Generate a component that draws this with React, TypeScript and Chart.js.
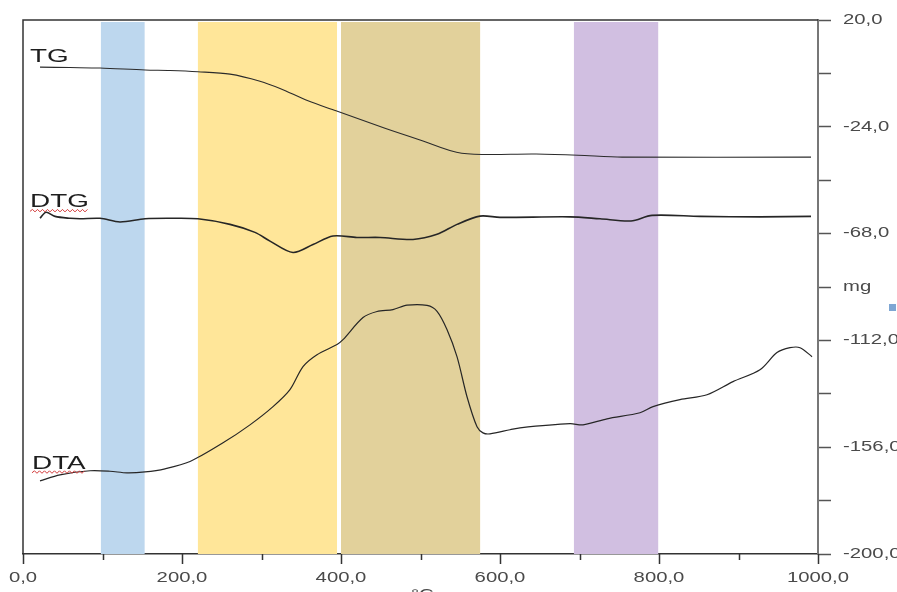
import { useEffect, useRef } from "react";
import { Chart, registerables } from "chart.js";

Chart.register(...registerables);

// ---- data (x in °C, y on the mg axis) ----
const TG_X = [21.4, 59.1, 96.9, 153.5, 184.9, 220.1, 260.4, 298.1, 323.3, 358.5, 393.7, 455.3, 499.4, 551.8, 645.3, 698.1, 753.5, 991.2];
const TG_Y = [0.6, 0.4, 0.2, -0.6, -0.8, -1.3, -2.3, -5.2, -8.2, -13.3, -17.4, -24.6, -29.4, -34.9, -35.2, -35.7, -36.5, -36.5];

const DTG_X = [21.4, 28.9, 40.3, 59.1, 71.7, 96.9, 122.0, 153.5, 184.9, 220.1, 260.4, 291.8, 310.7, 339.6, 364.8, 389.9, 420.1, 449.1, 490.6, 520.8, 545.9, 574.8, 600.0, 688.1, 725.8, 764.8, 791.2, 851.6, 927.0, 991.2];
const DTG_Y = [-61.7, -59.2, -60.9, -61.7, -61.9, -61.7, -63.2, -61.9, -61.7, -61.9, -64.2, -67.5, -71.1, -75.8, -72.5, -69.0, -69.6, -69.6, -70.4, -68.3, -64.2, -60.8, -61.3, -61.1, -61.9, -62.8, -60.5, -60.9, -61.1, -60.9];

const DTA_X = [21.4, 46.5, 84.3, 109.4, 130.8, 153.5, 178.6, 210.1, 251.6, 285.5, 314.5, 335.8, 352.2, 369.8, 395.0, 402.5, 427.7, 445.3, 465.4, 483.0, 508.2, 520.8, 533.3, 545.9, 558.5, 571.1, 578.6, 587.4, 612.6, 625.2, 688.1, 704.4, 734.6, 776.1, 792.5, 826.4, 860.4, 893.1, 927.0, 948.4, 964.8, 977.4, 992.5];
const DTA_Y = [-169.9, -167.4, -165.7, -165.9, -166.6, -166.2, -164.9, -161.9, -154.2, -146.8, -139.3, -132.3, -122.8, -117.9, -113.7, -111.7, -102.6, -100.1, -99.3, -97.5, -97.6, -100.0, -107.5, -118.7, -135.2, -147.6, -150.1, -150.5, -148.8, -148.0, -146.3, -146.8, -144.3, -141.8, -139.3, -136.4, -134.4, -129.0, -124.1, -117.0, -115.0, -115.0, -118.7];

// shaded temperature ranges
const BAND_START = [98, 220, 400, 693];
const BAND_END = [153, 395, 575, 799];
const BAND_COLORS = ["#bdd7ee", "#ffe699", "#e2d19b", "#d1bfe1"];

// ticks
const X_TICKS = [0, 100, 200, 300, 400, 500, 600, 700, 800, 900, 1000];
const X_LABELED = [0, 200, 400, 600, 800, 1000];
const Y_TICKS = [20, -2, -24, -46, -68, -90, -112, -134, -156, -178, -200];
const Y_LABELED = [20, -24, -68, -112, -156, -200];
const Y_UNIT_TICK = -90;
const Y_UNIT = "mg";
const X_UNIT = "°C";

// curve name labels and their anchor (data coords)
const CURVE_NAMES = ["TG", "DTG", "DTA"];
const CURVE_NAME_X = [8.8, 8.8, 11.3];
const CURVE_NAME_Y = [2.7, -57.2, -164.9];
const CURVE_NAME_UNDERLINE = [false, true, true];

const FONT = '"Liberation Sans", Arial, sans-serif';
const TEXT_STRETCH = 1.45; // the picture's text is horizontally stretched
const fmt = (v: number) => v.toFixed(1).replace(".", ",");

const pts = (xs: number[], ys: number[]) => xs.map((x, i) => ({ x, y: ys[i] }));

function stretchedText(ctx: CanvasRenderingContext2D, text: string, x: number, y: number, sx: number) {
  ctx.save();
  ctx.translate(x, y);
  ctx.scale(sx, 1);
  ctx.fillText(text, 0, 0);
  ctx.restore();
}

export default function App() {
  const ref = useRef<HTMLCanvasElement | null>(null);

  useEffect(() => {
    document.body.style.margin = "0";
    const canvas = ref.current;
    if (!canvas) return;

    const bandsPlugin = {
      id: "bands",
      beforeDatasetsDraw(chart: any) {
        const { ctx, chartArea, scales } = chart;
        ctx.save();
        for (let i = 0; i < BAND_START.length; i++) {
          const x0 = scales.x.getPixelForValue(BAND_START[i]);
          const x1 = scales.x.getPixelForValue(BAND_END[i]);
          ctx.fillStyle = BAND_COLORS[i];
          ctx.fillRect(x0, chartArea.top + 2, x1 - x0, chartArea.bottom - chartArea.top - 2);
        }
        ctx.restore();
      },
    };

    const decoPlugin = {
      id: "deco",
      afterDraw(chart: any) {
        const { ctx, chartArea, scales } = chart;
        ctx.save();
        // top and left frame lines
        ctx.strokeStyle = "#333";
        ctx.lineWidth = 1.5;
        ctx.beginPath();
        ctx.moveTo(chartArea.left, chartArea.bottom);
        ctx.lineTo(chartArea.left, chartArea.top);
        ctx.lineTo(chartArea.right, chartArea.top);
        ctx.stroke();

        // x ticks (major longer than minor)
        ctx.beginPath();
        for (const v of X_TICKS) {
          const px = Math.round(scales.x.getPixelForValue(v)) + 0.5;
          const len = X_LABELED.includes(v) ? 10 : 6;
          ctx.moveTo(px, chartArea.bottom);
          ctx.lineTo(px, chartArea.bottom + len);
        }
        ctx.stroke();

        // tick labels
        ctx.font = `14px ${FONT}`;
        ctx.fillStyle = "#4a4a4a";
        ctx.textBaseline = "middle";
        ctx.textAlign = "center";
        for (const v of X_LABELED) {
          stretchedText(ctx, fmt(v), scales.x.getPixelForValue(v), chartArea.bottom + 24, TEXT_STRETCH);
        }
        ctx.textAlign = "left";
        const yLabelX = chartArea.right + 25;
        for (const v of Y_LABELED) {
          stretchedText(ctx, fmt(v), yLabelX, scales.y.getPixelForValue(v), TEXT_STRETCH);
        }
        stretchedText(ctx, Y_UNIT, yLabelX, scales.y.getPixelForValue(Y_UNIT_TICK), TEXT_STRETCH);

        // x axis unit (partly outside the picture)
        ctx.textBaseline = "top";
        stretchedText(ctx, X_UNIT, scales.x.getPixelForValue(488), chartArea.bottom + 34, TEXT_STRETCH);

        // curve names
        ctx.font = `18px ${FONT}`;
        ctx.fillStyle = "#1e1e1e";
        ctx.textBaseline = "alphabetic";
        ctx.textAlign = "left";
        for (let i = 0; i < CURVE_NAMES.length; i++) {
          const px = scales.x.getPixelForValue(CURVE_NAME_X[i]);
          const py = scales.y.getPixelForValue(CURVE_NAME_Y[i]);
          stretchedText(ctx, CURVE_NAMES[i], px, py, 1.55);
          if (CURVE_NAME_UNDERLINE[i]) {
            const w = ctx.measureText(CURVE_NAMES[i]).width * 1.55;
            ctx.strokeStyle = "#d23a3a";
            ctx.lineWidth = 1;
            ctx.beginPath();
            let up = true;
            ctx.moveTo(px, py + 4);
            for (let x = px + 2.5; x <= px + w; x += 2.5) {
              ctx.lineTo(x, up ? py + 2 : py + 4.5);
              up = !up;
            }
            ctx.stroke();
          }
        }

        // small legend marker
        ctx.fillStyle = "#7ea6d3";
        ctx.fillRect(chart.width - 8, scales.y.getPixelForValue(-97), 7, 7);
        ctx.restore();
      },
    };

    const chart = new Chart(canvas, {
      type: "line",
      data: {
        datasets: [
          { label: "TG", data: pts(TG_X, TG_Y), borderColor: "#2b2b2b", borderWidth: 1.1, tension: 0.3 },
          { label: "DTG", data: pts(DTG_X, DTG_Y), borderColor: "#262626", borderWidth: 1.6, tension: 0.3 },
          { label: "DTA", data: pts(DTA_X, DTA_Y), borderColor: "#262626", borderWidth: 1.2, tension: 0.3 },
        ],
      },
      options: {
        animation: false,
        responsive: true,
        maintainAspectRatio: false,
        layout: { padding: { top: 20, left: 23, right: 0, bottom: 0 } },
        elements: { point: { radius: 0, hoverRadius: 0 } },
        plugins: { legend: { display: false }, tooltip: { enabled: false } },
        events: [],
        scales: {
          x: {
            type: "linear",
            position: "bottom",
            min: 0,
            max: 1000,
            afterBuildTicks: (scale: any) => {
              scale.ticks = X_TICKS.map((v) => ({ value: v }));
            },
            afterFit: (scale: any) => {
              scale.height = 38;
            },
            ticks: { autoSkip: false, maxRotation: 0, callback: () => "" },
            grid: { drawOnChartArea: false, drawTicks: false },
            border: { display: true, color: "#333", width: 1.5 },
          },
          y: {
            type: "linear",
            position: "right",
            min: -200,
            max: 20,
            afterBuildTicks: (scale: any) => {
              scale.ticks = Y_TICKS.map((v) => ({ value: v }));
            },
            afterFit: (scale: any) => {
              scale.width = 79;
            },
            ticks: { autoSkip: false, callback: () => "" },
            grid: { drawOnChartArea: false, drawTicks: true, tickLength: 13, color: "#555", tickWidth: 1.5 },
            border: { display: true, color: "#777", width: 2 },
          },
        },
      },
      plugins: [bandsPlugin, decoPlugin],
    });

    return () => chart.destroy();
  }, []);

  return (
    <div style={{ width: 897, height: 592, position: "relative", background: "#fff" }}>
      <canvas ref={ref} />
    </div>
  );
}
